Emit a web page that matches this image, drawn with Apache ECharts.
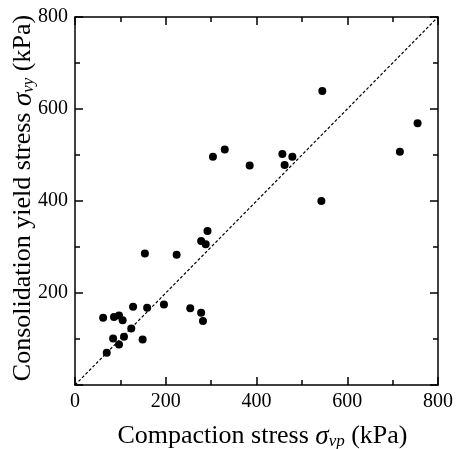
<!DOCTYPE html>
<html>
<head>
<meta charset="utf-8">
<script src="https://cdn.jsdelivr.net/npm/echarts@6/dist/echarts.min.js"></script>
<style>
  html, body { margin: 0; padding: 0; background: #fff; }
  #chart { width: 462px; height: 449px; }
</style>
</head>
<body>
<div id="chart"></div>
<script>
// compaction stress (kPa) vs consolidation yield stress (kPa)
const compaction = [154, 224, 62, 86, 97, 105, 128, 159, 196, 254, 278, 282, 124, 84, 108, 97, 149, 70,
  304, 330, 385, 457, 479, 462, 543, 292, 278, 288, 545, 755, 716];
const yieldStress = [286, 283, 146, 148, 151, 141, 170, 168, 175, 167, 157, 139, 123, 101, 105, 88, 99, 70,
  496, 512, 477, 502, 496, 478, 400, 335, 313, 306, 639, 569, 507];
const lineEnds = [0, 800];
const tickValues = [0, 200, 400, 600, 800];

const points = compaction.map((x, i) => [x, yieldStress[i]]);

const font = '"Liberation Serif", "DejaVu Serif", serif';
const black = '#000';

const baseAxis = {
  min: 0,
  max: 800,
  interval: 200,
  axisLine: { show: true, onZero: false, lineStyle: { color: black, width: 1.5 } },
  axisTick: { show: true, inside: true, length: 8, lineStyle: { color: black, width: 1.5 } },
  minorTick: { show: true, splitNumber: 2, length: 5, lineStyle: { color: black, width: 1.5 } },
  splitLine: { show: false },
  axisLabel: { color: black, fontFamily: font, fontSize: 20, margin: 7 }
};

const rich = {
  n: { fontFamily: font, fontSize: 26, color: black },
  s: { fontFamily: font, fontSize: 27, fontStyle: 'italic', color: black },
  sub: { fontFamily: font, fontSize: 17, fontStyle: 'italic', color: black, verticalAlign: 'bottom', padding: [10, 0, 0, 0] }
};

const dom = document.getElementById('chart');
const myChart = echarts.init(dom, null, { renderer: 'canvas' });

const option = {
  animation: false,
  backgroundColor: '#fff',
  grid: { left: 75, right: 24, top: 17, bottom: 64, containLabel: false, outerBoundsMode: 'none' },
  xAxis: [
    Object.assign({}, baseAxis, {
      type: 'value',
      position: 'bottom',
      name: '{n|Compaction stress }{s|σ}{sub|vp}{n| (kPa)}',
      nameLocation: 'middle',
      nameGap: 38,
      nameMoveOverlap: false,
      nameTextStyle: { rich: rich, padding: [0, 0, 0, 12] },
      axisLabel: Object.assign({}, baseAxis.axisLabel, {
        formatter: (v) => tickValues.includes(v) ? String(v) : ''
      })
    }),
    Object.assign({}, baseAxis, {
      type: 'value',
      position: 'top',
      axisLabel: { show: false }
    })
  ],
  yAxis: [
    Object.assign({}, baseAxis, {
      type: 'value',
      position: 'left',
      name: '{n|Consolidation yield stress }{s|σ}{sub|vy}{n| (kPa)}',
      nameLocation: 'middle',
      nameGap: 38,
      nameMoveOverlap: false,
      nameTextStyle: { rich: rich, padding: [0, 0, 0, 6] },
      axisLabel: Object.assign({}, baseAxis.axisLabel, {
        formatter: (v) => v === 0 ? '' : String(v)
      })
    }),
    Object.assign({}, baseAxis, {
      type: 'value',
      position: 'right',
      axisLabel: { show: false }
    })
  ],
  series: [
    {
      type: 'line',
      data: lineEnds.map(v => [v, v]),
      symbol: 'none',
      lineStyle: { color: black, width: 1.2, type: [3, 2] },
      silent: true,
      z: 1
    },
    {
      type: 'scatter',
      data: points,
      symbol: 'circle',
      symbolSize: 8,
      itemStyle: { color: black, opacity: 1 },
      z: 2
    }
  ]
};

myChart.setOption(option);
</script>
</body>
</html>
